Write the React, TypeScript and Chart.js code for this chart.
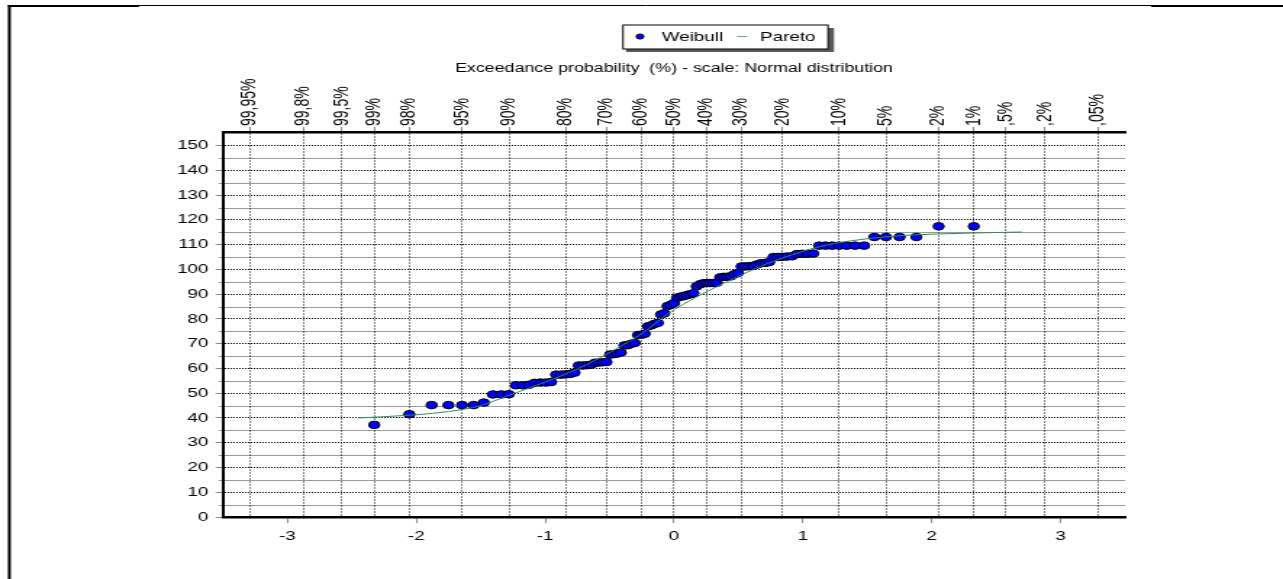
import React, { useEffect, useRef } from 'react';
import { Chart, registerables } from 'chart.js';

Chart.register(...registerables);

// ---------- data ----------
const weibullValues = [
  37.2, 41.5, 45.2, 45.2, 45.2, 45.2, 46.2, 49.5, 49.5, 49.6,
  53.2, 53.2, 53.4, 54.2, 54.3, 54.3, 54.5, 57.5, 57.5, 57.6,
  57.8, 58.3, 61.2, 61.2, 61.3, 61.5, 62.3, 62.4, 62.5, 62.6,
  65.6, 65.8, 66.0, 66.4, 69.3, 69.4, 70.0, 70.3, 73.5, 73.6,
  74.0, 77.0, 77.4, 78.0, 78.4, 81.8, 82.3, 85.2, 85.7, 86.4,
  88.6, 89.0, 89.2, 89.6, 90.0, 90.4, 93.2, 94.0, 94.4, 94.5,
  94.5, 94.5, 94.6, 96.8, 97.0, 97.0, 97.2, 98.0, 98.6, 101.2,
  101.2, 101.3, 101.4, 102.0, 102.5, 102.6, 103.0, 105.0, 105.0, 105.1,
  105.2, 105.3, 106.2, 106.3, 106.3, 106.4, 109.6, 109.6, 109.6, 109.6,
  109.6, 109.6, 109.6, 113.1, 113.1, 113.1, 113.1, 117.4, 117.4,
];

const paretoZ = [-2.45, -2.0, -1.75, -1.5, -1.3, -1.0, -0.75, -0.47, -0.21, -0.05, 0.18, 0.41, 0.66, 0.92, 1.18, 1.44, 1.67, 2.03, 2.7];
const paretoValues = [40.0, 41.3, 42.6, 45.0, 48.8, 54.5, 59.8, 67.3, 75.5, 82.0, 89.0, 95.0, 101.0, 106.0, 109.8, 112.0, 113.3, 114.3, 115.1];

const exceedanceProbabilities = [99.95, 99.8, 99.5, 99, 98, 95, 90, 80, 70, 60, 50, 40, 30, 20, 10, 5, 2, 1, 0.5, 0.2, 0.05];
const exceedanceLabels = ['99,95%', '99,8%', '99,5%', '99%', '98%', '95%', '90%', '80%', '70%', '60%', '50%', '40%', '30%', '20%', '10%', '5%', '2%', '1%', ',5%', ',2%', ',05%'];
const bottomTicks = [-3, -2, -1, 0, 1, 2, 3];
const yMajorTicks = [0, 10, 20, 30, 40, 50, 60, 70, 80, 90, 100, 110, 120, 130, 140, 150];
const yMinorTicks = [5, 15, 25, 35, 45, 55, 65, 75, 85, 95, 105, 115, 125, 135, 145];

const seriesNames = ['Weibull', 'Pareto'];
const axisTitle = 'Exceedance probability  (%) - scale: Normal distribution';

// ---------- helpers ----------
function normInv(p: number): number {
  const a = [-3.969683028665376e1, 2.209460984245205e2, -2.759285104469687e2, 1.38357751867269e2, -3.066479806614716e1, 2.506628277459239];
  const b = [-5.447609879822406e1, 1.615858368580409e2, -1.556989798598866e2, 6.680131188771972e1, -1.328068155288572e1];
  const c = [-7.784894002430293e-3, -3.223964580411365e-1, -2.400758277161838, -2.549671010139420, 4.374664141464968, 2.938163982698783];
  const d = [7.784695709041462e-3, 3.224671290700398e-1, 2.445134137142996, 3.754408661907416];
  const pLow = 0.02425;
  const pHigh = 1 - pLow;
  let q: number, r: number;
  if (p < pLow) {
    q = Math.sqrt(-2 * Math.log(p));
    return (((((c[0] * q + c[1]) * q + c[2]) * q + c[3]) * q + c[4]) * q + c[5]) / ((((d[0] * q + d[1]) * q + d[2]) * q + d[3]) * q + 1);
  }
  if (p <= pHigh) {
    q = p - 0.5;
    r = q * q;
    return ((((((a[0] * r + a[1]) * r + a[2]) * r + a[3]) * r + a[4]) * r + a[5]) * q) / (((((b[0] * r + b[1]) * r + b[2]) * r + b[3]) * r + b[4]) * r + 1);
  }
  q = Math.sqrt(-2 * Math.log(1 - p));
  return -(((((c[0] * q + c[1]) * q + c[2]) * q + c[3]) * q + c[4]) * q + c[5]) / ((((d[0] * q + d[1]) * q + d[2]) * q + d[3]) * q + 1);
}

const PAGE_W = 1283;
const PAGE_H = 579;
const CANVAS_W = 885;
const K = PAGE_W / CANVAS_W; // horizontal stretch of the original rendering
const FONT = "'Liberation Sans', Arial, sans-serif";
const GREEN = 'rgb(46,139,87)';
const TOP_FONT_SIZE = 14;

const decorPlugin = {
  id: 'decor',
  beforeDraw(chart: any) {
    const { ctx } = chart;
    const y = chart.scales.y;
    const area = chart.chartArea;
    ctx.save();
    // page frame
    ctx.strokeStyle = '#000';
    ctx.lineWidth = 2;
    ctx.beginPath();
    ctx.moveTo(9.3 / K, 5);
    ctx.lineTo(9.3 / K, PAGE_H);
    ctx.stroke();
    ctx.lineWidth = 1;
    ctx.beginPath();
    ctx.moveTo(8 / K, 5.5);
    ctx.lineTo(PAGE_W / K, 5.5);
    ctx.stroke();
    ctx.lineWidth = 2;
    ctx.beginPath();
    ctx.moveTo(8 / K, 6);
    ctx.lineTo(139 / K, 6);
    ctx.moveTo(1151 / K, 6);
    ctx.lineTo(PAGE_W / K, 6);
    ctx.stroke();
    // minor horizontal grid lines and ticks
    ctx.strokeStyle = '#9a9a9a';
    ctx.lineWidth = 1;
    for (const v of yMinorTicks) {
      const py = Math.round(y.getPixelForValue(v)) + 0.5;
      ctx.beginPath();
      ctx.moveTo(area.left, py);
      ctx.lineTo(area.right, py);
      ctx.stroke();
      ctx.beginPath();
      ctx.moveTo(area.left - 3, py);
      ctx.lineTo(area.left, py);
      ctx.stroke();
    }
    ctx.restore();
  },
  afterDraw(chart: any) {
    const { ctx } = chart;
    const bx = 623 / K;
    const by = 25;
    const bw = (828 - 623) / K;
    const bh = 24;
    ctx.save();
    ctx.fillStyle = '#5a5a5a';
    ctx.fillRect(bx + 3 / K, by + 3, bw + 3 / K, bh);
    ctx.fillStyle = '#fff';
    ctx.fillRect(bx, by, bw, bh);
    ctx.strokeStyle = '#000';
    ctx.lineWidth = 1;
    ctx.strokeRect(bx, by, bw, bh);
    // Weibull marker
    ctx.beginPath();
    ctx.arc(640 / K, 36.5, 2.6, 0, Math.PI * 2);
    ctx.fillStyle = '#0000ff';
    ctx.fill();
    ctx.strokeStyle = '#000';
    ctx.stroke();
    ctx.fillStyle = '#000';
    ctx.font = `13px ${FONT}`;
    ctx.textBaseline = 'middle';
    ctx.textAlign = 'left';
    ctx.fillText(seriesNames[0], 661.7 / K, 37.5);
    // Pareto line
    ctx.strokeStyle = 'rgb(90,180,130)';
    ctx.beginPath();
    ctx.moveTo(737 / K, 36.5);
    ctx.lineTo(747 / K, 36.5);
    ctx.stroke();
    ctx.fillText(seriesNames[1], 760 / K, 37.5);
    ctx.restore();
  },
};

export default function App() {
  const canvasRef = useRef<HTMLCanvasElement | null>(null);

  useEffect(() => {
    const canvas = canvasRef.current;
    if (!canvas) return;
    const n = weibullValues.length;
    const weibullPoints = weibullValues.map((v, i) => ({ x: normInv((i + 1) / (n + 1)), y: v }));
    const paretoPoints = paretoZ.map((z, i) => ({ x: z, y: paretoValues[i] }));
    const topTickValues = exceedanceProbabilities.map((p) => normInv(1 - p / 100));

    const left = 223 / K;
    const right = 1125 / K;
    const yAxisW = 50;
    const bottomAxisH = 40;
    const topAxisH = 132;

    const chart = new Chart(canvas, {
      type: 'scatter',
      data: {
        datasets: [
          {
            label: seriesNames[1],
            data: paretoPoints,
            showLine: true,
            borderColor: GREEN,
            backgroundColor: GREEN,
            borderWidth: 1,
            pointRadius: 0,
            cubicInterpolationMode: 'monotone',
            order: 0,
          },
          {
            label: seriesNames[0],
            data: weibullPoints,
            backgroundColor: '#0000ff',
            borderColor: '#000',
            borderWidth: 1,
            pointRadius: 3.8,
            pointHoverRadius: 3.8,
            order: 1,
          },
        ],
      },
      options: {
        animation: false,
        responsive: false,
        devicePixelRatio: 1,
        events: [],
        layout: {
          padding: { left: left - yAxisW, right: CANVAS_W - right, top: 0, bottom: PAGE_H - 517 - bottomAxisH },
        },
        plugins: {
          legend: { display: false },
          tooltip: { enabled: false },
          title: { display: false },
        },
        scales: {
          x: {
            type: 'linear',
            position: 'bottom',
            min: -3.5,
            max: 3.5,
            afterBuildTicks: (s: any) => {
              s.ticks = bottomTicks.map((v) => ({ value: v }));
            },
            afterFit: (s: any) => {
              s.height = bottomAxisH;
            },
            grid: { drawOnChartArea: false, drawTicks: true, tickLength: 6, tickColor: '#888', tickWidth: 1 },
            border: { display: true, color: '#000', width: 2.5 },
            ticks: {
              color: '#000',
              font: { family: FONT, size: 13 },
              padding: 6,
              autoSkip: false,
              maxRotation: 0,
              minRotation: 0,
              callback: (v: any) => String(v),
            },
          },
          x2: {
            type: 'linear',
            axis: 'x',
            position: 'top',
            min: -3.5,
            max: 3.5,
            afterBuildTicks: (s: any) => {
              s.ticks = topTickValues.map((v) => ({ value: v }));
            },
            afterFit: (s: any) => {
              s.height = topAxisH;
            },
            grid: { drawOnChartArea: true, color: '#000', lineWidth: 1, tickLength: 5, tickColor: '#888', tickWidth: 1 },
            border: { display: true, color: '#000', width: 2.5, dash: [1, 2] },
            ticks: {
              color: '#000',
              font: { family: FONT, size: TOP_FONT_SIZE },
              padding: 1,
              labelOffset: TOP_FONT_SIZE * 1.2,
              autoSkip: false,
              minRotation: 90,
              maxRotation: 90,
              callback: (_v: any, i: number) => exceedanceLabels[i],
            },
            title: {
              display: true,
              text: axisTitle,
              color: '#000',
              font: { family: FONT, size: 12.3 },
              padding: { top: 61.6, bottom: 0 },
            },
          },
          y: {
            type: 'linear',
            position: 'left',
            min: 0,
            max: 155.5,
            afterBuildTicks: (s: any) => {
              s.ticks = yMajorTicks.map((v) => ({ value: v }));
            },
            afterFit: (s: any) => {
              s.width = yAxisW;
            },
            grid: { drawOnChartArea: true, color: '#000', lineWidth: 1, tickLength: 5, tickColor: '#888', tickWidth: 1 },
            border: { display: true, color: '#000', width: 2, dash: [1, 1] },
            ticks: {
              color: '#000',
              font: { family: FONT, size: 13 },
              padding: 5,
              autoSkip: false,
              callback: (v: any) => String(v),
            },
          },
        },
      },
      plugins: [decorPlugin],
    } as any);

    return () => {
      chart.destroy();
    };
  }, []);

  return (
    <div style={{ position: 'absolute', left: 0, top: 0, width: PAGE_W, height: PAGE_H, overflow: 'hidden', background: '#fff' }}>
      <div style={{ width: CANVAS_W, height: PAGE_H, transform: `scaleX(${K})`, transformOrigin: '0 0' }}>
        <canvas
          ref={canvasRef}
          width={CANVAS_W}
          height={PAGE_H}
          style={{ display: 'block', width: CANVAS_W, height: PAGE_H }}
        />
      </div>
    </div>
  );
}
